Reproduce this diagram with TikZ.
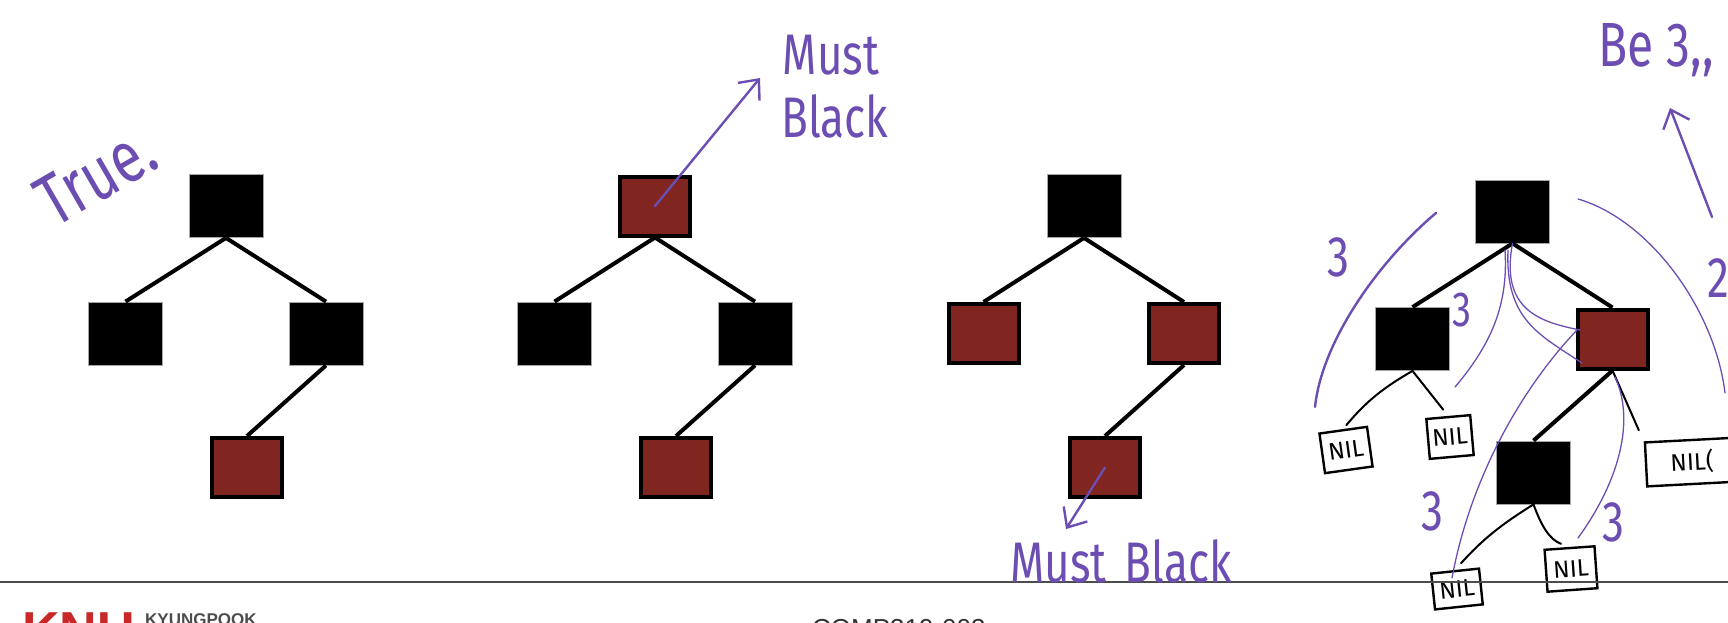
\documentclass[tikz,border=0pt]{standalone}
\usepackage{fontspec}
\usepackage{xcolor}
\usetikzlibrary{arrows.meta}
\newfontfamily\handfont{Fira Sans}
\newfontfamily\slidefont{Liberation Sans}
\definecolor{rbred}{RGB}{128,37,32}
\definecolor{pen}{RGB}{108,78,178}
\definecolor{knured}{RGB}{200,40,40}

\tikzset{
  blk/.style={rectangle, fill=black, draw=black!35, line width=0.8pt, minimum width=74pt, minimum height=63pt, inner sep=0pt},
  rdn/.style={rectangle, fill=rbred, draw=black, line width=4pt, minimum width=70pt, minimum height=59pt, inner sep=0pt},
  link/.style={line width=4pt},
  nillink/.style={line width=2pt, line cap=round},
  nilbox/.style={draw, line width=2.4pt, inner sep=0pt, font=\handfont\fontsize{24}{24}\selectfont},
  ink/.style={draw=pen, line width=2.4pt, line cap=round},
  inkthin/.style={draw=pen, line width=1.3pt, line cap=round},
  inkarrow/.style={ink, -{Straight Barb[length=16pt,width=28pt]}},
  inktext/.style={text=pen, inner sep=0pt, font=\handfont\fontsize{44}{44}\selectfont},
}
\newcommand{\tall}[1]{\scalebox{1}[1.3]{#1}}

\begin{document}
\begin{tikzpicture}[x=1pt,y=-1pt]
\useasboundingbox (0,0) rectangle (1728,622);
\clip (0,0) rectangle (1728,622);

% three small trees
\foreach \dx/\sr/\sl/\srt/\sll/\t in {0/blk/blk/blk/rdn/a, 429/rdn/blk/blk/rdn/b, 858/blk/rdn/rdn/rdn/c}{
  \node[\sr] (top\t) at (226+\dx,206) {};
  \node[\sl] (lft\t) at (125.5+\dx,333.5) {};
  \node[\srt] (rgt\t) at (326+\dx,333.5) {};
  \node[\sll] (low\t) at (247+\dx,467.5) {};
  \draw[link] (top\t.south) -- (lft\t.north);
  \draw[link] (top\t.south) -- (rgt\t.north);
  \draw[link] (rgt\t.south) -- (low\t.north);
}

% fourth tree with nil leaves
\node[blk] (topd) at (1512.5,211.5) {};
\node[blk] (lftd) at (1412.5,339) {};
\node[rdn] (rgtd) at (1612.5,339) {};
\node[blk] (lowd) at (1533.5,472.5) {};
\draw[link] (topd.south) -- (lftd.north);
\draw[link] (topd.south) -- (rgtd.north);
\draw[link] (rgtd.south) -- (lowd.north);

\node[nilbox, minimum width=48pt, minimum height=40pt, rotate=8] (nil1) at (1346,450) {NIL};
\node[nilbox, minimum width=44pt, minimum height=40pt, rotate=5] (nil2) at (1450,437) {NIL};
\node[nilbox, minimum width=92pt, minimum height=44pt, rotate=3] (nil3) at (1692,462) {NIL(};
\node[nilbox, minimum width=48pt, minimum height=36pt, rotate=6] (nil4) at (1457,589) {NIL};
\node[nilbox, minimum width=50pt, minimum height=42pt, rotate=4] (nil5) at (1571,569) {NIL};
\draw[nillink, shorten >=5pt] (lftd.south) to[bend right=10] (nil1.north);
\draw[nillink, shorten >=8pt] (lftd.south) -- (nil2.north);
\draw[nillink, shorten >=12pt] (rgtd.south) -- (nil3.north west);
\draw[nillink, shorten >=9pt] (lowd.south) to[bend right=8] (nil4.north);
\draw[nillink, shorten >=9pt] (lowd.south) to[out=-70,in=160] (nil5.north);

% separator of the slide
\draw[black!70, line width=1.5pt] (0,582) -- (1728,582);
\node[anchor=base west, inner sep=0pt, text=black!80, font=\slidefont\fontsize{26}{26}\selectfont] (course) at (812,637) {COMP319-003};
\node[anchor=base west, inner sep=0pt, text=knured, font=\slidefont\bfseries\fontsize{52}{52}\selectfont] (knu) at (22,648) {KNU};
\node[anchor=base west, inner sep=0pt, text=black!70, font=\slidefont\bfseries\fontsize{17}{17}\selectfont] (kyung) at (145,625) {KYUNGPOOK};

% pen notes
\node[inktext, font=\handfont\fontsize{56}{56}\selectfont, rotate=30] (true) at (96,176) {\tall{True.}};

\node[inktext] (mustb) at (831,55) {\tall{Must}};
\node[inktext] (blackb) at (835,116) {\tall{Black}};
\coordinate (tipb) at (760,78);
\draw[inkarrow] (topb.center) -- (tipb);

\node[inktext] (mustc) at (1121,561) {\tall{Must\hspace{18pt}Black}};
\coordinate (tipc) at (1066,529);
\draw[inkarrow] (lowc.center) -- (tipc);

\node[inktext, font=\handfont\fontsize{48}{48}\selectfont] (bethree) at (1656,50) {\tall{Be 3,,}};
\coordinate (foot) at (1712,217);
\coordinate (tipd) at (1670,108);
\draw[inkarrow] (foot) -- (tipd);

\node[inktext] (h1) at (1338,257) {\tall{3}};
\node[inktext, font=\handfont\fontsize{38}{38}\selectfont] (h2) at (1462,310) {\tall{3}};
\node[inktext] (h3) at (1432,511) {\tall{3}};
\node[inktext] (h4) at (1613,522) {\tall{3}};
\node[inktext] (h5) at (1718,278) {\tall{2}};

\draw[ink] (1436,213) .. controls (1380,260) and (1322,340) .. (1315,407);
\draw[inkthin] (1455,387) .. controls (1495,340) and (1508,300) .. (1505,250);
\draw[inkthin] (topd.south) .. controls (1500,310) and (1540,322) .. (1580,330);
\draw[inkthin] (1508,250) .. controls (1505,320) and (1540,335) .. (1582,363);
\draw[inkthin] (1452,578) .. controls (1470,480) and (1520,390) .. (1577,330);
\draw[inkthin] (1615,377) .. controls (1635,420) and (1620,480) .. (1578,538);
\draw[inkthin] (1578,199) .. controls (1650,220) and (1715,310) .. (1725,393);
\end{tikzpicture}
\end{document}
